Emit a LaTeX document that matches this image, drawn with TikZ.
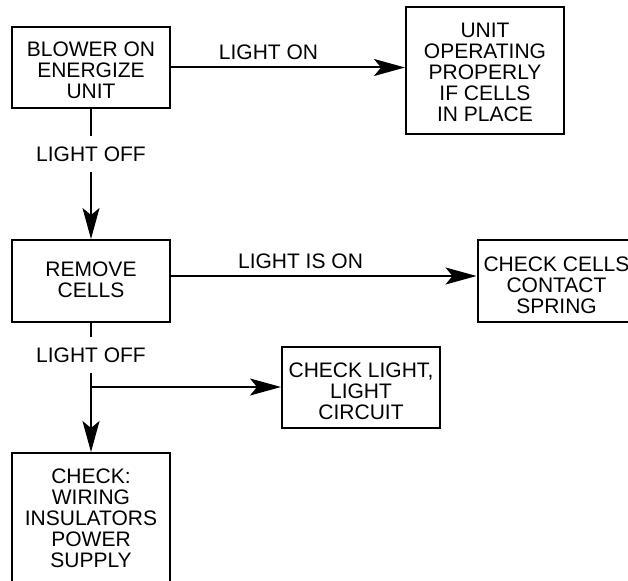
\documentclass[tikz,border=0pt]{standalone}
\usepackage{fontspec}
\setmainfont{Liberation Sans}
\usetikzlibrary{arrows.meta}
\begin{document}
\begin{tikzpicture}[x=1pt,y=-1pt,
  txt/.style={font=\fontsize{21}{21}\selectfont},
  box/.style={draw, line width=2pt, minimum width=158pt, inner sep=0pt},
  btxt/.style={txt, align=center, inner sep=0pt},
  lbl/.style={txt, inner sep=0pt},
  gaplbl/.style={txt, inner xsep=0pt, inner ysep=10pt},
  conn/.style={line width=2pt},
  arr/.style={conn, -{Stealth[length=31pt,width=17pt,inset=7pt]}}]
\clip (0,0) rectangle (628,580);
\node[box, minimum height=81pt] (b1) at (91,67.5) {};
\node[box, minimum height=127pt] (b2) at (485,70.5) {};
\node[box, minimum height=82pt] (b3) at (91,281) {};
\node[box, minimum height=82pt] (b4) at (556.5,281) {};
\node[box, minimum height=81pt] (b5) at (361,387.5) {};
\node[box, minimum height=130pt] (b6) at (91,518) {};
\node[btxt] (t1) at ([yshift=-3pt]b1.center) {BLOWER ON\\ENERGIZE\\UNIT};
\node[btxt] (t2) at ([yshift=-2pt]b2.center) {UNIT\\OPERATING\\PROPERLY\\IF CELLS\\IN PLACE};
\node[btxt] (t3) at ([yshift=1pt]b3.center) {REMOVE\\CELLS};
\node[btxt] (t4) at ([yshift=-4pt]b4.center) {CHECK CELLS\\CONTACT\\SPRING};
\node[btxt] (t5) at ([yshift=-4pt]b5.center) {CHECK LIGHT,\\LIGHT\\CIRCUIT};
\node[btxt] (t6) at (b6.center) {CHECK:\\WIRING\\INSULATORS\\POWER\\SUPPLY};
\node[lbl] (l1) at (268.5,52) {LIGHT ON};
\node[lbl] (l2) at (300.5,261) {LIGHT IS ON};
\node[gaplbl] (lo1) at (91,154) {LIGHT OFF};
\node[gaplbl] (lo2) at (91,355) {LIGHT OFF};
\coordinate (br) at (91,387);
\draw[arr] (b1.east) -- (b1.east -| b2.west);
\draw[conn] (b1.south) -- (lo1.north);
\draw[arr] (lo1.south) -- (b3.north);
\draw[arr] ([yshift=5pt]b3.east) -- ([yshift=5pt]b3.east -| b4.west);
\draw[conn] (b3.south) -- (lo2.north);
\draw[arr] (lo2.south) -- (b6.north);
\draw[arr] (br) -- (br -| b5.west);
\end{tikzpicture}
\end{document}
